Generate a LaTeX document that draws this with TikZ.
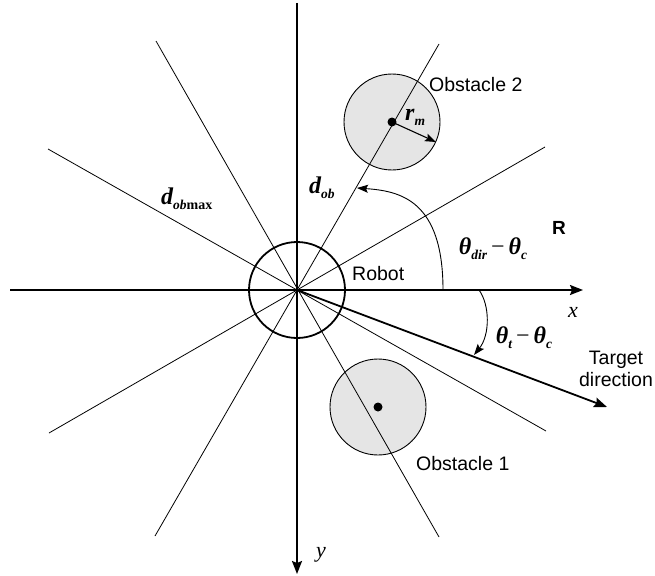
\documentclass[tikz,border=0pt]{standalone}
\usepackage{fontspec}
\setmainfont{Liberation Sans}
\newfontfamily\tms{Liberation Serif}
\usetikzlibrary{arrows.meta}
\newcommand{\bi}[1]{{\tms\bfseries\itshape\fontsize{24}{24}\selectfont #1}}
\newcommand{\bsub}[1]{\raisebox{-5pt}{\tms\bfseries\itshape\fontsize{13.5}{13.5}\selectfont #1}}
\newcommand{\bsubup}[1]{\raisebox{-5pt}{\tms\bfseries\fontsize{14}{14}\selectfont #1}}
\newcommand{\mminus}{{\tms\fontsize{24}{24}\selectfont\,−\,}}
\begin{document}
\begin{tikzpicture}[x=1pt,y=-1pt,
  ray/.style={line width=0.8pt},
  axis/.style={line width=1.8pt,-{Stealth[length=13pt,width=10pt,inset=2pt]}},
  angarrow/.style={line width=0.9pt,-{Stealth[length=11pt,width=8pt,inset=2pt]}},
  obst/.style={circle,draw,line width=0.9pt,fill=black!10,minimum size=96pt,inner sep=0pt},
  robotc/.style={circle,draw,line width=1.8pt,minimum size=96pt,inner sep=0pt},
  dotc/.style={circle,fill=black,minimum size=9pt,inner sep=0pt},
  lbl/.style={font=\fontsize{19.5}{22}\selectfont,inner sep=0pt},
  sym/.style={inner sep=0pt}
]
\useasboundingbox (0,0) rectangle (655,575);
% key points
\coordinate (O) at (297,290);
\node[obst] (ob2) at (392,122) {};
\node[obst] (ob1) at (378,407) {};
% rays
\coordinate (r30) at (545,147);
\coordinate (r210) at (49,433);
\coordinate (r60) at (439,44);
\coordinate (r240) at (155,536);
\coordinate (r120) at (156,41);
\coordinate (r300) at (439,537);
\coordinate (r150) at (48,149);
\coordinate (r330) at (546,431);
\draw[ray] (r30) -- (r210);
\draw[ray] (r60) -- (r240);
\draw[ray] (r120) -- (r300);
\draw[ray] (r150) -- (r330);
% robot
\node[robotc] (robot) at (O) {};
% axes
\coordinate (xl) at (10,290);
\coordinate (xr) at (583,290);
\coordinate (yt) at (297,3);
\coordinate (yb) at (297,574);
\draw[axis] (xl) -- (xr);
\draw[axis] (yt) -- (yb);
% target direction
\coordinate (tgt) at (607,407);
\draw[axis] (O) -- (tgt);
% obstacle centres
\node[dotc] (c2) at (ob2.center) {};
\node[dotc] (c1) at (ob1.center) {};
\coordinate (rmend) at (436,142);
\draw[line width=1.1pt,-{Stealth[length=11pt,width=8pt,inset=2pt]}] (c2.center) -- (rmend);
% angle arcs
\coordinate (a1s) at (443,290);
\coordinate (a1e) at (357,188);
\draw[angarrow] (a1s) .. controls (443,200) and (400,191) .. (a1e);
\coordinate (a2s) at (479,290);
\coordinate (a2e) at (474,355);
\draw[angarrow] (a2s) .. controls (490,305) and (490,335) .. (a2e);
% labels
\node[lbl,anchor=west] (lob2) at (429,85) {Obstacle 2};
\node[lbl,anchor=west] (lob1) at (416,464) {Obstacle 1};
\node[lbl,anchor=west] (lrob) at (352,274) {Robot};
\node[lbl,align=center] (ltgt) at (616,369) {Target\\direction};
\node[inner sep=0pt,font=\fontsize{19}{19}\selectfont\bfseries] (lR) at (559,228) {R};
\node[sym] (ldir) at (493,249) {\bi{θ}\bsub{dir}\mminus\bi{θ}\bsub{c}};
\node[sym] (lt) at (524,338) {\bi{θ}\bsub{t}\mminus\bi{θ}\bsub{c}};
\node[sym,anchor=west] (ldob) at (309,188) {\bi{d}\bsub{ob}};
\node[sym,anchor=west] (ldmax) at (161,199) {\bi{d}\bsub{ob}\bsubup{max}};
\node[sym,anchor=west] (lrm) at (405,117) {\bi{r}\bsub{m}};
\node[sym,font=\tms\itshape\fontsize{22}{22}\selectfont] (lx) at (573,312) {x};
\node[sym,font=\tms\itshape\fontsize{22}{22}\selectfont] (ly) at (321,555) {y};
\end{tikzpicture}
\end{document}
